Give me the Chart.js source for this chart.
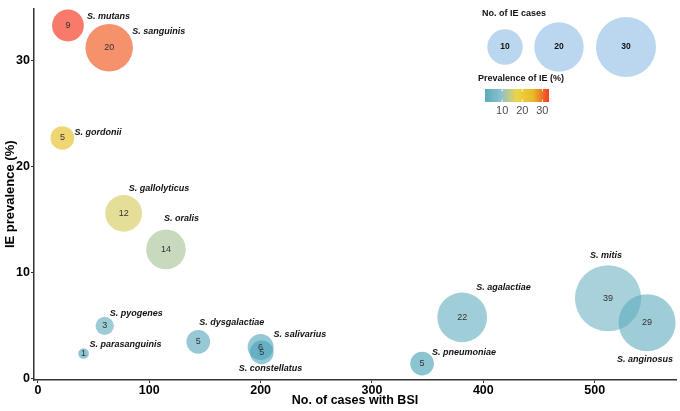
<!DOCTYPE html>
<html><head><meta charset="utf-8">
<script src="https://cdn.jsdelivr.net/npm/chart.js@4"></script>
<style>html,body{margin:0;padding:0;background:#fff}canvas{display:block}</style>
</head><body>
<canvas id="c" width="680" height="411"></canvas>
<script>
// ---- data ----
const species = ['S. mutans','S. sanguinis','S. gordonii','S. gallolyticus','S. oralis','S. pyogenes','S. parasanguinis','S. dysgalactiae','S. salivarius','S. constellatus','S. agalactiae','S. pneumoniae','S. mitis','S. anginosus'];
const bsiCases = [27, 64, 22, 77, 115, 60, 41, 144, 200, 201, 381, 345, 512, 547];
const iePrevalence = [33.3, 31.2, 22.7, 15.6, 12.2, 5.0, 2.4, 3.5, 3.0, 2.5, 5.8, 1.45, 7.6, 5.3];
const ieCases = [9, 20, 5, 12, 14, 3, 1, 5, 6, 5, 22, 5, 39, 29];
const xTickValues = [0, 100, 200, 300, 400, 500];
const yTickValues = [0, 10, 20, 30];
const sizeLegendValues = [10, 20, 30];
const colorbarTickValues = [10, 20, 30];

// ---- styles ----
const FONT = '"Liberation Sans", Arial, sans-serif';
const palette = [[59,154,178],[120,183,197],[235,204,42],[225,175,0],[242,26,0]];
const bubbleAlpha = 0.58;
const sizeScale = n => 5.3 * Math.sqrt(n);
const labelPlacement = {
  'S. mutans':[19,-9],'S. sanguinis':[23,-16],'S. gordonii':[12,-5],'S. gallolyticus':[5,-25],
  'S. oralis':[-2,-31],'S. pyogenes':[5,-12],'S. parasanguinis':[6,-9],'S. dysgalactiae':[1,-19],
  'S. salivarius':[13,-13],'S. constellatus':[-23,16],'S. agalactiae':[14,-30],'S. pneumoniae':[10,-11],
  'S. mitis':[-18,-43],'S. anginosus':[-30,37]
};
const cMin = Math.min(...iePrevalence), cMax = Math.max(...iePrevalence);
function colorFor(v, a) {
  let t = (v - cMin) / (cMax - cMin); t = Math.max(0, Math.min(1, t));
  const seg = t * (palette.length - 1);
  const i = Math.min(Math.floor(seg), palette.length - 2), f = seg - i;
  const c = palette[i].map((ch, k) => Math.round(ch + (palette[i+1][k] - ch) * f));
  return `rgba(${c[0]},${c[1]},${c[2]},${a})`;
}

const points = species.map((s, i) => ({x: bsiCases[i], y: iePrevalence[i], r: sizeScale(ieCases[i])}));

const labelsPlugin = {
  id: 'labels',
  afterDatasetsDraw(chart) {
    const ctx = chart.ctx;
    const meta = chart.getDatasetMeta(0);
    ctx.save();
    meta.data.forEach((el, i) => {
      ctx.fillStyle = '#333';
      ctx.font = '9px ' + FONT;
      ctx.textAlign = 'center'; ctx.textBaseline = 'middle';
      ctx.fillText(String(ieCases[i]), el.x, el.y);
      const p = labelPlacement[species[i]];
      ctx.fillStyle = '#111';
      ctx.font = 'italic bold 9px ' + FONT;
      ctx.textAlign = 'left';
      ctx.fillText(species[i], el.x + p[0], el.y + p[1]);
    });
    ctx.restore();
  }
};

const legendPlugin = {
  id: 'customLegend',
  afterDraw(chart) {
    const ctx = chart.ctx;
    ctx.save();
    // size legend
    ctx.fillStyle = '#111';
    ctx.font = 'bold 9px ' + FONT;
    ctx.textAlign = 'left'; ctx.textBaseline = 'middle';
    ctx.fillText('No. of IE cases', 482, 14);
    const cx = [505, 559, 626];
    sizeLegendValues.forEach((v, i) => {
      ctx.beginPath();
      ctx.arc(cx[i], 47, sizeScale(v) + 1, 0, Math.PI * 2);
      ctx.fillStyle = 'rgba(170,205,235,0.8)';
      ctx.fill();
      ctx.fillStyle = '#111';
      ctx.font = 'bold 8.5px ' + FONT;
      ctx.textAlign = 'center';
      ctx.fillText(String(v), cx[i], 47);
    });
    // colour legend
    ctx.textAlign = 'left';
    ctx.fillStyle = '#111';
    ctx.font = 'bold 9px ' + FONT;
    ctx.fillText('Prevalence of IE (%)', 478, 79);
    const x0 = 485, x1 = 549, y0 = 89, h = 13;
    const g = ctx.createLinearGradient(x0, 0, x1, 0);
    palette.forEach((c, i) => g.addColorStop(i / (palette.length - 1), `rgba(${c[0]},${c[1]},${c[2]},0.85)`));
    ctx.fillStyle = g;
    ctx.fillRect(x0, y0, x1 - x0, h);
    ctx.strokeStyle = 'rgba(255,255,255,0.9)';
    ctx.lineWidth = 1;
    ctx.font = '11px ' + FONT;
    ctx.textAlign = 'center';
    colorbarTickValues.forEach(v => {
      const x = x0 + (v - cMin) / (cMax - cMin) * (x1 - x0);
      ctx.beginPath();
      ctx.moveTo(x, y0); ctx.lineTo(x, y0 + 2.5);
      ctx.moveTo(x, y0 + h); ctx.lineTo(x, y0 + h - 2.5);
      ctx.stroke();
      ctx.fillStyle = '#4d4d4d';
      ctx.fillText(String(v), x, 111);
    });
    ctx.restore();
  }
};

const axisCommon = {
  type: 'linear',
  grid: {display: true, drawOnChartArea: false, drawTicks: true, tickLength: 3, tickColor: '#333', tickWidth: 1},
  border: {display: true, color: '#333', width: 1.5}
};

new Chart(document.getElementById('c'), {
  type: 'bubble',
  data: {datasets: [{
    data: points,
    backgroundColor: ctx => colorFor(iePrevalence[ctx.dataIndex], bubbleAlpha),
    borderWidth: 0,
    hoverBorderWidth: 0
  }]},
  options: {
    responsive: false,
    animation: false,
    events: [],
    layout: {autoPadding: false, padding: {top: 0, right: 4, bottom: 0, left: 0}},
    plugins: {legend: {display: false}, tooltip: {enabled: false}},
    scales: {
      x: Object.assign({}, axisCommon, {
        min: -3.5, max: 573,
        afterBuildTicks: s => { s.ticks = xTickValues.map(v => ({value: v})); },
        afterFit: s => { s.height = 31; },
        ticks: {color: '#000', font: {family: FONT, size: 12.5, weight: 'bold'}, padding: 0},
        title: {display: true, text: 'No. of cases with BSI', color: '#000', font: {family: FONT, size: 12.5, weight: 'bold'}, padding: {top: 0, bottom: 3}}
      }),
      y: Object.assign({}, axisCommon, {
        min: -0.1, max: 34.9,
        afterBuildTicks: s => { s.ticks = yTickValues.map(v => ({value: v})); },
        afterFit: s => { s.width = 34; },
        ticks: {color: '#000', font: {family: FONT, size: 12.5, weight: 'bold'}, padding: 1},
        title: {display: true, text: 'IE prevalence (%)', color: '#000', font: {family: FONT, size: 13, weight: 'bold'}, padding: {top: 2.5, bottom: 0}}
      })
    }
  },
  plugins: [labelsPlugin, legendPlugin]
});
</script>
</body></html>
